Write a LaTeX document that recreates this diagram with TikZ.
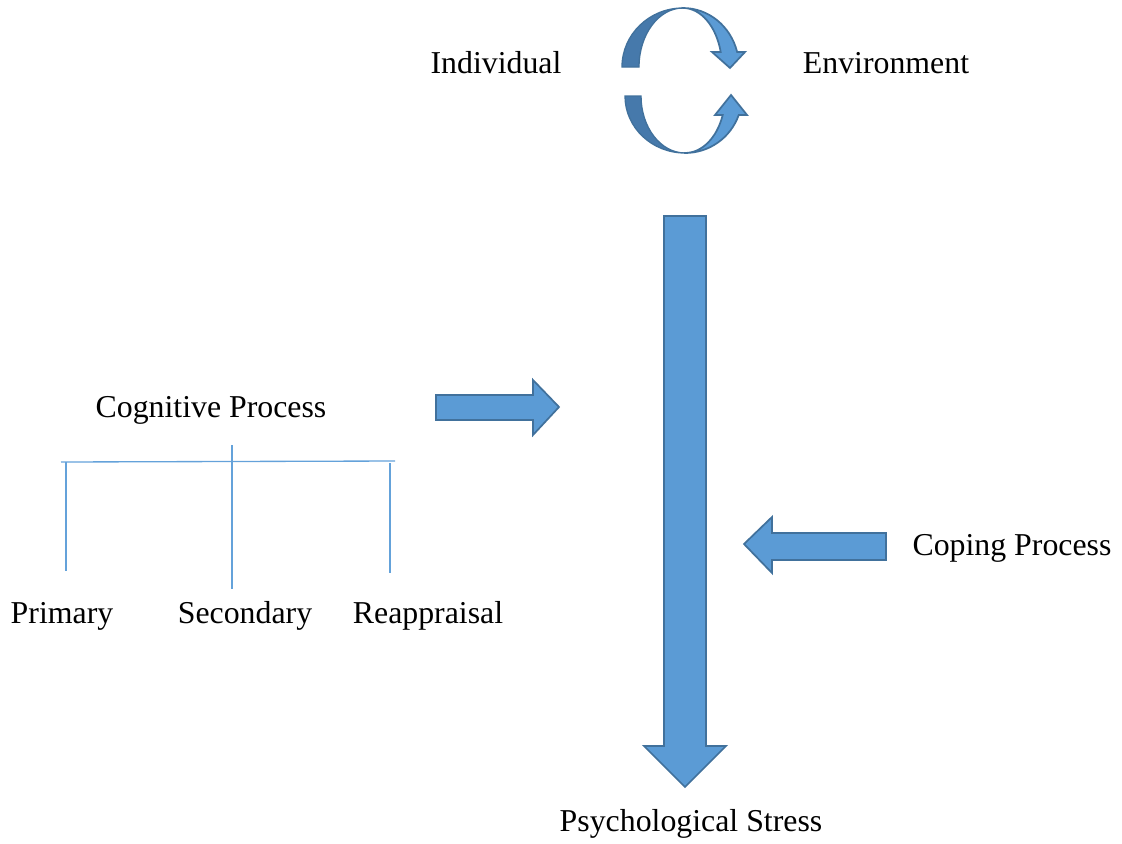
\documentclass[tikz,border=0pt]{standalone}
\usepackage{fontspec}
\setmainfont{Liberation Serif}
\definecolor{arrowfill}{RGB}{91,155,213}
\definecolor{arrowedge}{RGB}{65,113,156}
\definecolor{arrowdark}{RGB}{70,121,171}
\definecolor{treeline}{RGB}{100,162,218}

\begin{document}
\begin{tikzpicture}[x=0.0265cm,y=-0.0265cm,
	label/.style={font=\fontsize{24}{28}\selectfont, inner sep=0pt, anchor=base},
	blockarrow/.style={fill=arrowfill, draw=arrowedge, line width=1.3pt, line join=miter},
	backface/.style={fill=arrowdark, draw=arrowedge, line width=1pt},
	branch/.style={draw=treeline, line width=1pt}]
%
	\useasboundingbox (0,0) rectangle (1122,843);
%
	\node[label] (individual) at (496,73) {Individual};
	\node[label] (environment) at (886,73) {Environment};
	\node[label] (cognitive) at (211,417) {Cognitive Process};
	\node[label] (primary) at (62,623) {Primary};
	\node[label] (secondary) at (245,623) {Secondary};
	\node[label] (reappraisal) at (428,623) {Reappraisal};
	\node[label] (coping) at (1012,555) {Coping Process};
	\node[label] (stress) at (691,831) {Psychological Stress};
%
	% cycle between individual and environment
	\draw[backface] (622,67) arc[start angle=180, end angle=270, x radius=61, y radius=59]
		arc[start angle=270, end angle=180, x radius=44, y radius=59] -- cycle;
	\draw[blockarrow] (683,8) arc[start angle=270, end angle=345.3, x radius=56, y radius=59]
		-- (745,52) -- (730,68) -- (712,52) -- (720.7,52)
		arc[start angle=345.3, end angle=270, x radius=39, y radius=59] -- cycle;
	\draw[backface] (625,96) arc[start angle=180, end angle=90, x radius=60, y radius=57]
		arc[start angle=90, end angle=180, x radius=44, y radius=57] -- cycle;
	\draw[blockarrow] (685,153) arc[start angle=90, end angle=19.5, x radius=57, y radius=57]
		-- (747,115) -- (731,95) -- (715,115) -- (722.7,115)
		arc[start angle=19.5, end angle=90, x radius=40, y radius=57] -- cycle;
%
	% block arrows
	\draw[blockarrow] (664,216) -- (706,216) -- (706,746) -- (726,746) -- (685,787)
		-- (644,746) -- (664,746) -- cycle;
	\draw[blockarrow] (436,395) -- (533,395) -- (533,380) -- (559,407) -- (533,435)
		-- (533,420) -- (436,420) -- cycle;
	\draw[blockarrow] (886,533) -- (772,533) -- (772,517) -- (744,544) -- (772,573)
		-- (772,560) -- (886,560) -- cycle;
%
	% appraisal branches
	\draw[branch] (61,462) -- (395,461);
	\draw[branch] (66,462) -- (66,571);
	\draw[branch] (232,445) -- (232,589);
	\draw[branch] (390,463) -- (390,573);
%
\end{tikzpicture}
\end{document}
